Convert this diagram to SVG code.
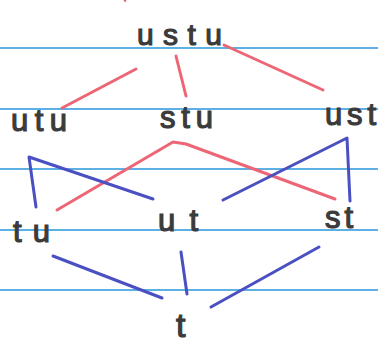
<svg xmlns="http://www.w3.org/2000/svg" width="378" height="345" viewBox="0 0 378 345">
<style>
.rule{stroke:#5cb0e4;stroke-width:2;fill:none}
.lbl{font-family:"Liberation Sans",Arial,sans-serif;font-size:31px;fill:#3b3b3b;stroke:#3b3b3b;stroke-width:1.2}
.red{stroke:#ec6676;stroke-width:3;fill:none;stroke-linecap:round;stroke-linejoin:round}
.blue{stroke:#4a50c2;stroke-width:3;fill:none;stroke-linecap:round;stroke-linejoin:round}
</style>
<rect width="378" height="345" fill="#ffffff"/>
<g id="paper">
<line class="rule" x1="0" y1="48" x2="378" y2="48"/>
<line class="rule" x1="0" y1="109" x2="378" y2="109"/>
<line class="rule" x1="0" y1="169" x2="378" y2="169"/>
<line class="rule" x1="0" y1="230" x2="378" y2="230"/>
<line class="rule" x1="0" y1="290" x2="378" y2="290"/>
<line x1="124" y1="0" x2="126" y2="1.5" stroke="#ec6676" stroke-width="2"/>
</g>
<g id="connectors">
<line class="red" x1="136" y1="69" x2="62" y2="108"/>
<line class="red" x1="176" y1="56" x2="186" y2="96"/>
<line class="red" x1="224" y1="45" x2="323" y2="90"/>
<polyline class="red" points="57,210 173,142 186,144 335,199"/>
<polyline class="blue" points="36,207 29,157 153,199"/>
<polyline class="blue" points="223,200 347,138 350,201"/>
<line class="blue" x1="53" y1="256" x2="162" y2="298"/>
<line class="blue" x1="181" y1="252" x2="187" y2="294"/>
<line class="blue" x1="319" y1="247" x2="211" y2="307"/>
</g>
<g id="n-ustu"><text class="lbl" x="137" y="45" textLength="85" lengthAdjust="spacing" style="font-size:30px">ustu</text></g>
<g id="n-utu"><text class="lbl" x="11" y="131" textLength="56" lengthAdjust="spacing">utu</text></g>
<g id="n-stu"><text class="lbl" x="160" y="128" textLength="53" lengthAdjust="spacing">stu</text></g>
<g id="n-ust"><text class="lbl" x="325" y="125" textLength="51" lengthAdjust="spacing">ust</text></g>
<g id="n-tu"><text class="lbl" x="13" y="242" textLength="37" lengthAdjust="spacing">tu</text></g>
<g id="n-ut"><text class="lbl" x="158" y="231" textLength="40" lengthAdjust="spacing">ut</text></g>
<g id="n-st"><text class="lbl" x="325" y="228" textLength="28" lengthAdjust="spacing">st</text></g>
<g id="n-t"><text class="lbl" x="176" y="337" style="font-size:34px">t</text></g>
</svg>
